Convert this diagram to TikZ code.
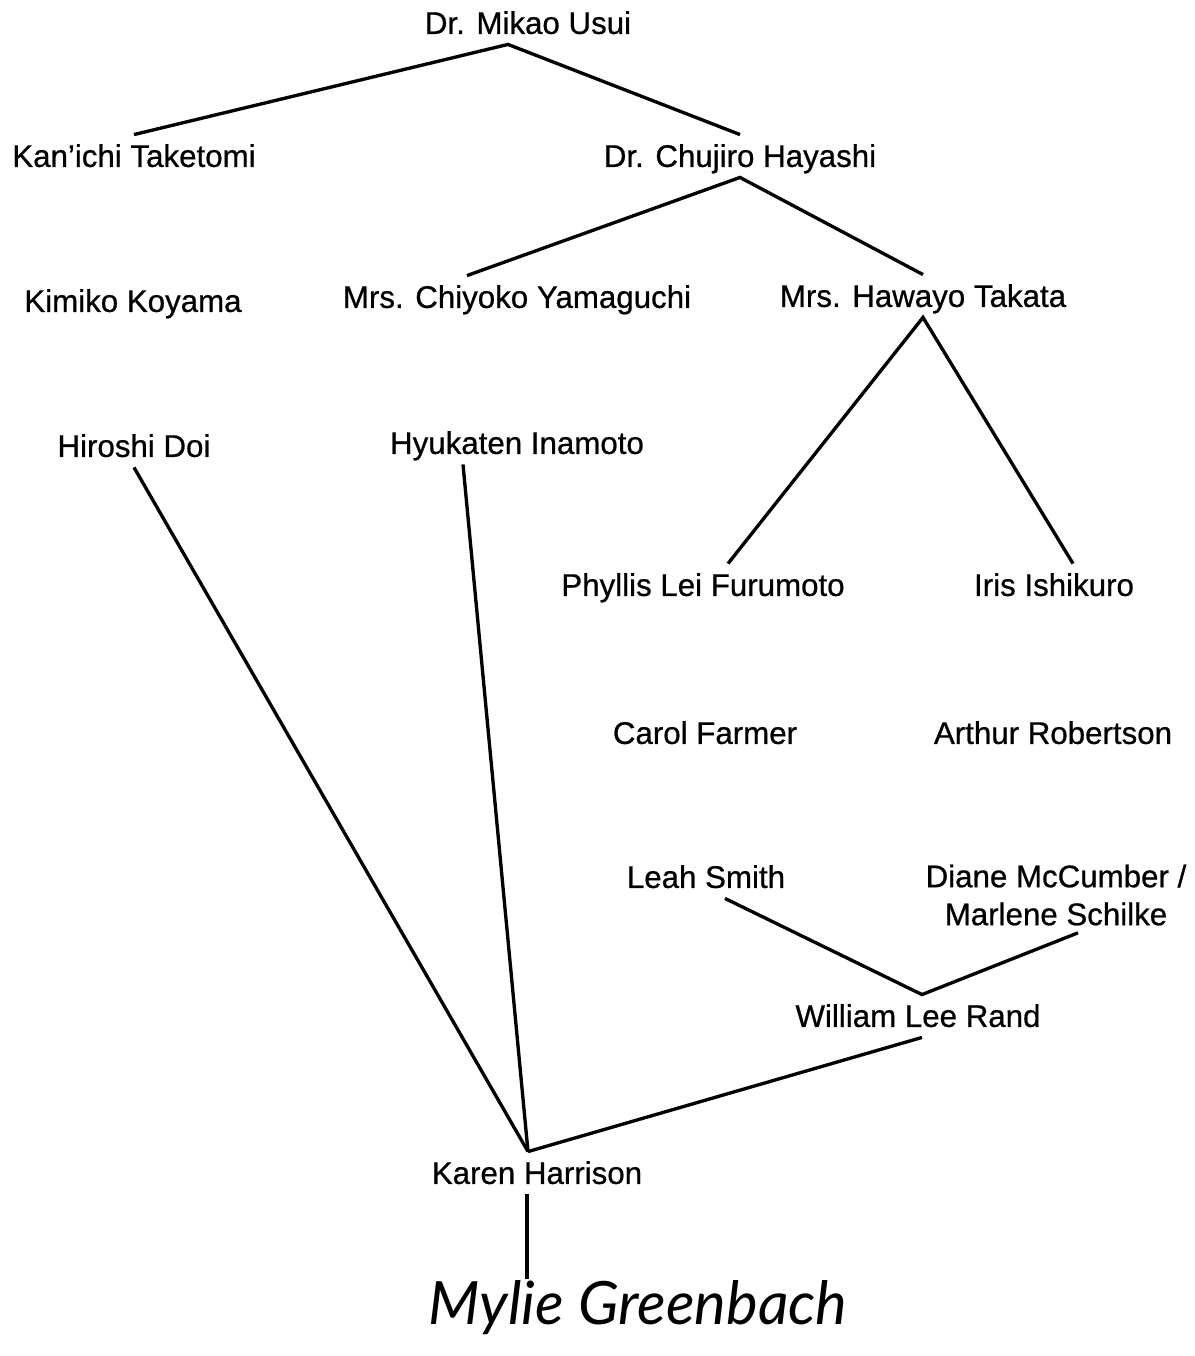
\documentclass[tikz,border=0pt]{standalone}
\usepackage{fontspec}
\setmainfont{Liberation Sans}
\newfontfamily\scanfont{Liberation Sans}[FakeBold=0.7]
\newfontfamily\handfont{Lato}
\usetikzlibrary{positioning,calc}
\tikzstyle{who} = [inner xsep=2pt, inner ysep=4pt, font=\scanfont\fontsize{17.8}{21.6}\selectfont]
\tikzstyle{person} = [who, text height=14.2pt, text depth=1.8pt]
\tikzstyle{link} = [line width=1.9pt]

\begin{document}
\begin{tikzpicture}[x=0.02cm,y=-0.02cm]
\useasboundingbox (0,0) rectangle (1194,1356);

\node (usui) [person] at (528,23) {Dr. Mikao Usui};
\node (taketomi) [person] at (134,156) {Kan’ichi Taketomi};
\node (hayashi) [person] at (740,156) {Dr. Chujiro Hayashi};

\node (koyama) [person] at (133,301) {Kimiko Koyama};
\node (yamaguchi) [person] at (517,297) {Mrs. Chiyoko Yamaguchi};
\node (takata) [person] at (923,296) {Mrs. Hawayo Takata};

\node (doi) [person] at (134,446) {Hiroshi Doi};
\node (inamoto) [person] at (517,443) {Hyukaten Inamoto};

\node (furumoto) [person] at (703,585) {Phyllis Lei Furumoto};
\node (ishikuro) [person] at (1054,585) {Iris Ishikuro};
\node (farmer) [person] at (705,733) {Carol Farmer};
\node (robertson) [person] at (1053,733) {Arthur Robertson};

\node (smith) [person] at (706,877) {Leah Smith};
\node (mccumber) [who, align=center] at (1056,895) {Diane McCumber /\\Marlene Schilke};
\node (rand) [person] at (918,1016) {William Lee Rand};

\node (harrison) [person] at (537,1173) {Karen Harrison};
\node (greenbach) [inner sep=0pt, font=\handfont\itshape\fontsize{34}{38}\selectfont] at (638,1308) {Mylie Greenbach};

\coordinate (kh) at ($(harrison.north)+(-9,0)$);

% Usui line
\draw [link] (taketomi.north) -- ($(usui.south)+(-20,0)$) -- (hayashi.north);
\draw [link] ($(yamaguchi.north)+(-50,0)$) -- (hayashi.south) -- (takata.north);
\draw [link] ($(furumoto.north)+(25,0)$) -- (takata.south) -- ($(ishikuro.north)+(19,0)$);

% lines into Karen
\draw [link] (doi.south) -- (kh);
\draw [link] ($(inamoto.south)+(-54,0)$) -- (kh);
\draw [link] ($(rand.south)+(4,0)$) -- (kh);
\draw [link] ($(smith.south)+(19,0)$) -- ($(rand.north)+(4,0)$) -- ($(mccumber.south)+(22,0)$);

\draw [link] ($(harrison.south)+(-10,0)$) -- ($(greenbach.north)+(-111,-2)$);

\end{tikzpicture}
\end{document}
